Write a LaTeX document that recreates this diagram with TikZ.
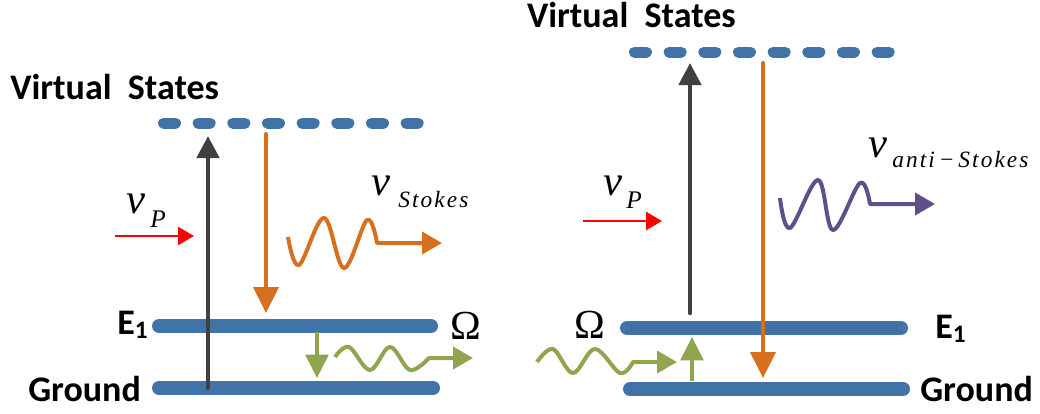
\documentclass[tikz,border=0pt]{standalone}
\usepackage{fontspec}
\setmainfont{Carlito}
\newfontfamily\greekfont{Liberation Serif}
\newfontfamily\spacedfont[LetterSpace=9]{Liberation Serif}
\usetikzlibrary{arrows.meta}

\definecolor{levelblue}{RGB}{65,114,168}
\definecolor{pumpred}{RGB}{255,0,0}
\definecolor{stokesorange}{RGB}{214,112,30}
\definecolor{antipurple}{RGB}{95,80,140}
\definecolor{phonongreen}{RGB}{143,166,80}
\definecolor{transgray}{RGB}{64,64,64}

\tikzset{
  level/.style={levelblue, line width=10.5pt, line cap=round},
  virtual/.style={levelblue, line width=8.25pt, line cap=round,
    dash pattern=on 9pt off 17pt},
  pumpup/.style={transgray, line width=3.4pt, line cap=round,
    -{Triangle[length=16.5pt,width=16.5pt]}},
  emitdown/.style={stokesorange, line width=3pt, line cap=round,
    -{Triangle[length=19.5pt,width=18.75pt]}},
  phononarrow/.style={phonongreen, line width=3pt,
    -{Triangle[length=17.5pt,width=17pt]}},
  pumpbeam/.style={pumpred, line width=1.9pt,
    -{Triangle[length=12pt,width=13.5pt]}},
  wave/.style={line width=3pt, line join=round,
    -{Triangle[length=15pt,width=16.5pt]}},
  statelabel/.style={font=\bfseries\fontsize{27}{30}\selectfont, inner sep=0pt},
  nulabel/.style={font=\greekfont\itshape\fontsize{32}{34}\selectfont, inner sep=0pt},
  sublabel/.style={font=\spacedfont\itshape\fontsize{17.5}{19}\selectfont, inner sep=0pt},
  plabel/.style={font=\greekfont\itshape\fontsize{19}{21}\selectfont, inner sep=0pt},
  omegalabel/.style={font=\greekfont\fontsize{31}{33}\selectfont, inner sep=0pt},
}

\begin{document}
\begin{tikzpicture}[x=0.75pt, y=-0.75pt]
\useasboundingbox (0,0) rectangle (1040,414);

% ---------- Stokes scattering (left) ----------
\draw[virtual] (163.5,123) -- (418.5,123);
\draw[level] (159,326) -- (431,326);
\draw[level] (159,388) -- (433,388);

\node[statelabel, anchor=base west] (lvs) at (10,99) {Virtual\ \ States};
\node[statelabel, anchor=base west] (le1) at (117,334) {E\textsubscript{1}};
\node[statelabel, anchor=base west] (lgr) at (28,401) {Ground};

\coordinate (lpumpA) at (208,388);
\coordinate (lpumpB) at (208,136);
\draw[pumpup] (lpumpA) -- (lpumpB);

\coordinate (lemitA) at (266,134);
\coordinate (lemitB) at (266,313);
\draw[emitdown] (lemitA) -- (lemitB);

\coordinate (lbeamA) at (115,236);
\coordinate (lbeamB) at (194,236);
\draw[pumpbeam] (lbeamA) -- (lbeamB);
\node[nulabel, anchor=base west] (lnu) at (126,213) {ν};
\node[plabel, anchor=base west] (lnup) at (150,227) {P};

\coordinate (stokesTip) at (442,243);
\draw[wave, stokesorange] plot[smooth, tension=0.6] coordinates
  {(288,237) (299,265) (324,218) (344,268) (367,220) (377,243)} -- (stokesTip);
\node[nulabel, anchor=base west] (snu) at (371,195) {ν};
\node[sublabel, anchor=base west] (ssub) at (398,207) {Stokes};

\coordinate (lphA) at (317,332);
\coordinate (lphB) at (317,378);
\draw[phononarrow] (lphA) -- (lphB);
\coordinate (lphTip) at (473,358);
\draw[wave, phonongreen] plot[smooth, tension=0.6] coordinates
  {(335,357) (349,347) (370,370) (390,347) (410,370) (429,358)} -- (lphTip);
\node[omegalabel, anchor=base west] (lom) at (450,339) {Ω};

% ---------- anti-Stokes scattering (right) ----------
\draw[virtual] (634.5,52) -- (889.5,52);
\draw[level] (627,328) -- (901,328);
\draw[level] (630,389) -- (903,389);

\node[statelabel, anchor=base east] (rvs) at (736,27) {Virtual\ \ States};
\node[statelabel, anchor=base west] (re1) at (935,338) {E\textsubscript{1}};
\node[statelabel, anchor=base west] (rgr) at (920,401) {Ground};

\coordinate (rpumpA) at (690,313);
\coordinate (rpumpB) at (690,63);
\draw[pumpup] (rpumpA) -- (rpumpB);

\coordinate (remitA) at (763,63);
\coordinate (remitB) at (763,378);
\draw[emitdown] (remitA) -- (remitB);

\coordinate (rbeamA) at (583,221);
\coordinate (rbeamB) at (662,221);
\draw[pumpbeam] (rbeamA) -- (rbeamB);
\node[nulabel, anchor=base west] (rnu) at (603,195) {ν};
\node[plabel, anchor=base west] (rnup) at (626,208) {P};

\coordinate (antiTip) at (935,204);
\draw[wave, antipurple] plot[smooth, tension=0.6] coordinates
  {(780,198) (790,228) (818,180) (833,230) (860,183) (870,204)} -- (antiTip);
\node[nulabel, anchor=base west] (anu) at (868,157) {ν};
\node[sublabel, anchor=base west] (asub) at (892,167) {anti\,−\,Stokes};

\coordinate (rphTip) at (677,362);
\draw[wave, phonongreen] plot[smooth, tension=0.6] coordinates
  {(537,362) (553,349) (573,373) (595,349) (620,373) (633,362)} -- (rphTip);
\coordinate (rphA) at (692,381);
\coordinate (rphB) at (692,337);
\draw[phononarrow] (rphA) -- (rphB);
\node[omegalabel, anchor=base west] (rom) at (574,338) {Ω};
\end{tikzpicture}
\end{document}
